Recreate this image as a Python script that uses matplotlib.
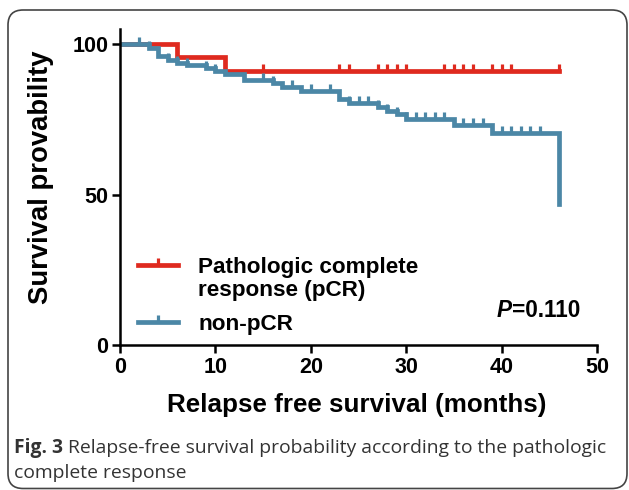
import matplotlib
matplotlib.use('Agg')
import matplotlib.pyplot as plt
import numpy as np
from matplotlib.lines import Line2D
from matplotlib.patches import FancyBboxPatch
from matplotlib.path import Path

# Kaplan-Meier steps (months, % relapse free after the step)
pcr_time = [0, 6, 11, 46]
pcr_surv = [100, 95.7, 91.1, 91.1]
pcr_cens = [15, 23, 24, 27, 28, 29, 30, 34, 35, 36, 37, 39, 40, 41, 46]

non_time = [0, 3, 4, 5, 6, 7, 9, 10, 11, 13, 16, 17, 19, 23, 24, 27, 28, 29, 30, 35, 39, 46]
non_surv = [100, 98.6, 96.0, 94.6, 93.7, 92.9, 92.0, 91.1, 89.9, 88.2, 86.9, 85.8,
            84.4, 81.6, 80.3, 79.1, 77.9, 76.6, 75.2, 73.2, 70.3, 46.8]
non_cens = [2, 3, 5, 6, 7, 9, 10, 15, 16, 18, 20, 22, 24, 25, 26, 27, 28, 29, 30,
            31, 32, 33, 34, 36, 37, 38, 40, 41, 42, 43, 44]

x_ticks = [0, 10, 20, 30, 40, 50]
y_ticks = [0, 50, 100]

red = '#df2a1f'
blue = '#4b87a6'
font = 'Liberation Sans'
lw = 3.4

# censor tick: a short stroke going up from the line
tick_mark = Path([(0, 0), (0, 1)], [Path.MOVETO, Path.LINETO])


def level(times, surv, t):
    return surv[np.searchsorted(times, t, side='right') - 1]


fig = plt.figure(figsize=(6.29, 4.9), dpi=100)
ax = fig.add_axes([120 / 629, 145 / 490, 477 / 629, 316 / 490])

for times, surv, cens, col in [(pcr_time, pcr_surv, pcr_cens, red),
                               (non_time, non_surv, non_cens, blue)]:
    ax.step(times, surv, where='post', color=col, lw=lw, solid_joinstyle='miter')
    ax.plot(cens, [level(times, surv, t) for t in cens], ls='none', marker=tick_mark,
            ms=10.5, mew=2.3, color=col)

ax.set_xlim(0, 50)
ax.set_ylim(0, 105)
ax.set_xticks(x_ticks)
ax.set_yticks(y_ticks)
ax.spines['top'].set_visible(False)
ax.spines['right'].set_visible(False)
for s in ['left', 'bottom']:
    ax.spines[s].set_linewidth(1.8)
ax.tick_params(direction='out', length=5.8, width=1.8)
ax.tick_params(axis='x', pad=3)
ax.tick_params(axis='y', pad=2.5)
for lab in ax.get_xticklabels() + ax.get_yticklabels():
    lab.set_fontfamily(font)
    lab.set_fontweight('bold')
    lab.set_fontsize(15.5)

fig.text(357 / 629, 1 - 405 / 490, 'Relapse free survival (months)', family=font,
         weight='bold', fontsize=18.7, ha='center', va='center')
fig.text(41 / 629, 1 - 177 / 490, 'Survival provability', family=font,
         weight='bold', fontsize=19.8, ha='center', va='center', rotation=90)

# legend drawn by hand so the red handle sits on the first text line
def ax_y(py):
    return (345 - py) / 316


for py, col, txt in [(265, red, 'Pathologic complete\nresponse (pCR)'), (322, blue, 'non-pCR')]:
    ax.add_line(Line2D([18 / 477, 58 / 477], [ax_y(py)] * 2, transform=ax.transAxes,
                       color=col, lw=lw, clip_on=False))
    ax.add_line(Line2D([38 / 477], [ax_y(py)], transform=ax.transAxes, color=col,
                       marker=tick_mark, ms=10, mew=2.3, clip_on=False))
    ax.text(78 / 477, ax_y(py - 8), txt, transform=ax.transAxes, family=font, weight='bold',
            fontsize=16.2, va='top', ha='left', linespacing=1.13)

# p value
fig.canvas.draw()
r = fig.canvas.get_renderer()
tp = fig.text(497 / 629, 1 - 310 / 490, 'P', family=font, weight='bold', style='italic',
              fontsize=16.3, va='center', ha='left')
bb = tp.get_window_extent(r)
fig.text(bb.x1 / fig.bbox.width, 1 - 310 / 490, '=0.110', family=font, weight='bold',
         fontsize=16.3, va='center', ha='left')

# caption
cap = 'Open Sans'
t1 = fig.text(14 / 629, 1 - 453 / 490, 'Fig. 3', family=cap, weight='bold', fontsize=13.9,
              color='#333333', va='baseline', ha='left')
bb = t1.get_window_extent(r)
fig.text((bb.x1 + 5) / fig.bbox.width, 1 - 453 / 490,
         'Relapse-free survival probability according to the pathologic',
         family=cap, fontsize=13.9, color='#333333', va='baseline', ha='left')
fig.text(14 / 629, 1 - 478 / 490, 'complete response', family=cap, fontsize=13.9,
         color='#333333', va='baseline', ha='left')

# rounded frame around the figure
frame = FancyBboxPatch((0.08, 0.015), 6.19, 4.785, boxstyle='round,pad=0,rounding_size=0.15',
                       transform=fig.dpi_scale_trans, fill=False, ec='#444444', lw=1.2)
fig.patches.append(frame)

fig.savefig('out.png', dpi=100)
